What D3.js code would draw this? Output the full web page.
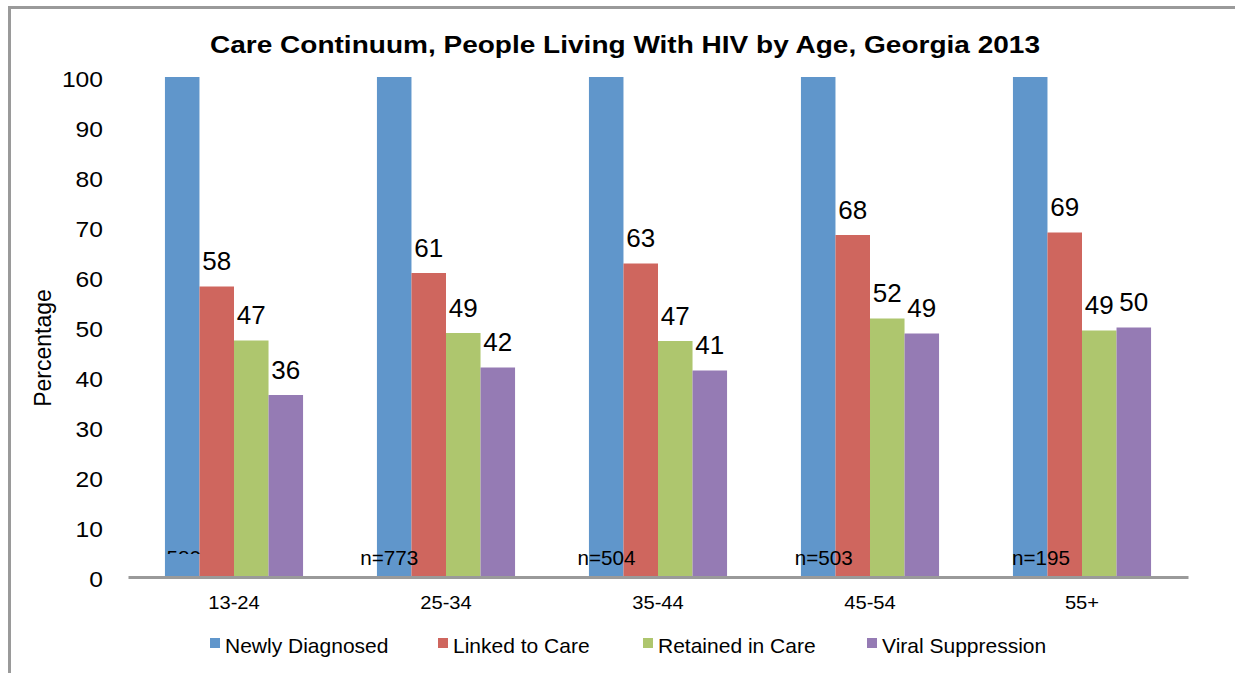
<!DOCTYPE html>
<html>
<head>
<meta charset="utf-8">
<script src="https://cdn.jsdelivr.net/npm/d3@7/dist/d3.min.js"></script>
<style>
  html, body { margin: 0; padding: 0; background: #fff; }
  svg { display: block; font-family: "Liberation Sans", Arial, sans-serif; }
</style>
</head>
<body>
<svg id="chart" width="1235" height="673"></svg>
<script>
// chart data
const ageGroups = ['13-24', '25-34', '35-44', '45-54', '55+'];
const seriesNames = ['Newly Diagnosed', 'Linked to Care', 'Retained in Care', 'Viral Suppression'];
const newlyDiagnosed = [100, 100, 100, 100, 100];
const linkedToCare = [58.1, 60.8, 62.7, 68.4, 68.9];
const retainedInCare = [47.3, 48.8, 47.2, 51.7, 49.3];
const viralSuppression = [36.4, 41.9, 41.3, 48.7, 49.9];
const sampleSizes = ['n=580', 'n=773', 'n=504', 'n=503', 'n=195'];
const yTicks = [0, 10, 20, 30, 40, 50, 60, 70, 80, 90, 100];

const colors = ['#6096cb', '#cf665e', '#aec66e', '#957bb4'];
const allSeries = [newlyDiagnosed, linkedToCare, retainedInCare, viralSuppression];

const svg = d3.select('#chart');
const W = 1235, H = 673;
const margin = { top: 77, right: 47, bottom: 96, left: 128 };
const innerW = W - margin.left - margin.right;
const innerH = H - margin.top - margin.bottom;

// the source picture has slightly wide lettering: stretch text horizontally
function stretch(sel, sx) {
  sel.each(function () {
    const w = this.getComputedTextLength();
    d3.select(this)
      .attr('textLength', w * sx)
      .attr('lengthAdjust', 'spacingAndGlyphs');
  });
}

// outer frame (top + left only)
svg.append('path')
  .attr('d', `M9.5,${H} L9.5,7.5 L${W},7.5`)
  .attr('fill', 'none')
  .attr('stroke', '#9a9a9a')
  .attr('stroke-width', 3);

// title
svg.append('text')
  .attr('x', 625)
  .attr('y', 53)
  .attr('text-anchor', 'middle')
  .style('font-weight', 'bold')
  .style('font-size', '24px')
  .text('Care Continuum, People Living With HIV by Age, Georgia 2013')
  .call((s) => s.attr('textLength', 830).attr('lengthAdjust', 'spacingAndGlyphs'));

const g = svg.append('g').attr('transform', `translate(${margin.left},${margin.top})`);

const x0 = d3.scaleBand().domain(ageGroups).range([0, innerW]).paddingInner(0).paddingOuter(0);
const x1 = d3.scaleBand().domain(d3.range(seriesNames.length))
  .range([0, x0.bandwidth()]).paddingInner(0).paddingOuter(1.07);
const y = d3.scaleLinear().domain([0, 100]).range([innerH, 0]);

// y axis (labels only)
const yAxis = d3.axisLeft(y).tickValues(yTicks).tickSize(0).tickPadding(25);
const yAxisG = g.append('g').call(yAxis);
yAxisG.select('.domain').remove();
yAxisG.selectAll('text')
  .attr('dy', '0.42em')
  .style('font-size', '22px')
  .style('font-family', '"Liberation Sans", Arial, sans-serif')
  .attr('fill', '#000')
  .call(stretch, 1.12);

// y axis title
svg.append('text')
  .attr('transform', `translate(51,348) rotate(-90)`)
  .attr('text-anchor', 'middle')
  .style('font-size', '23px')
  .text('Percentage');

// bars
const groups = g.selectAll('.grp')
  .data(ageGroups)
  .enter()
  .append('g')
  .attr('class', 'grp')
  .attr('transform', (d) => `translate(${x0(d)},0)`);

groups.selectAll('rect')
  .data((d, i) => allSeries.map((s, k) => ({ k, v: s[i] })))
  .enter()
  .append('rect')
  .attr('x', (d) => x1(d.k))
  .attr('y', (d) => y(d.v))
  .attr('width', x1.bandwidth())
  .attr('height', (d) => innerH - y(d.v))
  .attr('fill', (d) => colors[d.k]);

// value labels for all but the first series
groups.selectAll('.val')
  .data((d, i) => allSeries.map((s, k) => ({ k, v: s[i] })).filter((d) => d.k > 0))
  .enter()
  .append('text')
  .attr('class', 'val')
  .attr('x', (d) => x1(d.k) + x1.bandwidth() / 2)
  .attr('y', (d) => y(d.v) - 16.5)
  .attr('text-anchor', 'middle')
  .style('font-size', '25px')
  .text((d) => Math.round(d.v))
  .call(stretch, 1.04);

// sample size labels: text boxes sit on their own even spacing across the plot
const nScale = d3.scaleLinear().domain([0, ageGroups.length - 1]).range([15, 884]);
svg.append('defs').append('clipPath').attr('id', 'clipFirst')
  .append('rect')
  .attr('x', 0).attr('y', 0)
  .attr('width', innerW)
  .attr('height', y(4.6));

g.selectAll('.nlab')
  .data(sampleSizes)
  .enter()
  .append('text')
  .attr('class', 'nlab')
  .attr('x', (d, i) => nScale(i))
  .attr('y', y(2.4))
  .attr('clip-path', (d, i) => (i === 0 ? 'url(#clipFirst)' : null))
  .style('font-size', '21px')
  .text((d) => d)
  .call((s) => s.attr('textLength', 58).attr('lengthAdjust', 'spacingAndGlyphs'));

// x axis
const xAxisG = g.append('g')
  .attr('transform', `translate(0,${innerH})`)
  .call(d3.axisBottom(x0).tickSize(0).tickPadding(19));
xAxisG.select('.domain')
  .attr('stroke', '#9a9a9a')
  .attr('stroke-width', 3);
xAxisG.selectAll('text')
  .style('font-size', '18px')
  .style('font-family', '"Liberation Sans", Arial, sans-serif')
  .attr('fill', '#000')
  .call(stretch, 1.12);

// legend
const legendX = [210, 438, 643, 867];
const legend = svg.append('g').attr('transform', 'translate(0,638)');
const items = legend.selectAll('.leg')
  .data(seriesNames)
  .enter()
  .append('g')
  .attr('class', 'leg')
  .attr('transform', (d, i) => `translate(${legendX[i]},0)`);
items.append('rect')
  .attr('x', 0).attr('y', 0)
  .attr('width', 10).attr('height', 10)
  .attr('fill', (d, i) => colors[i]);
items.append('text')
  .attr('x', 15)
  .attr('y', 15)
  .style('font-size', '21px')
  .text((d) => d);
</script>
</body>
</html>
